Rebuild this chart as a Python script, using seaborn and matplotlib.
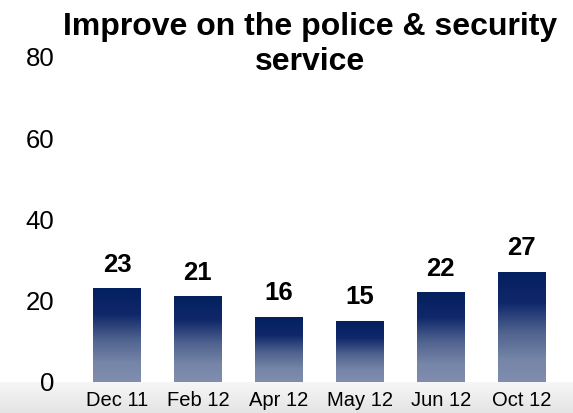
import numpy as np
import pandas as pd
import matplotlib.pyplot as plt
import seaborn as sns
from matplotlib.colors import LinearSegmentedColormap

# Survey share per wave
periods = ["Dec 11", "Feb 12", "Apr 12", "May 12", "Jun 12", "Oct 12"]
values = [23, 21, 16, 15, 22, 27]
y_ticks = [0, 20, 40, 60, 80]
title = "Improve on the police & security\nservice"

df = pd.DataFrame({"period": periods, "value": values})

sns.set_style("white")
plt.rcParams["font.family"] = ["Liberation Sans", "DejaVu Sans"]
plt.rcParams["text.color"] = "black"
plt.rcParams["xtick.color"] = "black"
plt.rcParams["ytick.color"] = "black"

fig = plt.figure(figsize=(5.73, 4.13), dpi=100)

# light grey shading strip along the bottom edge
band = fig.add_axes([0, 0, 1, 0.076], zorder=-1)
band_cmap = LinearSegmentedColormap.from_list("band", ["#e4e4e4", "#f7f7f7"])
band.imshow(np.linspace(0, 1, 50).reshape(-1, 1), cmap=band_cmap,
            aspect="auto", extent=(0, 1, 0, 1), origin="lower")
band.axis("off")

ax = fig.add_axes([0.1335, 0.0758, 0.8475, 0.7862])
ax.patch.set_alpha(0)
sns.barplot(data=df, x="period", y="value", color="#0a2260", width=0.59, ax=ax)

# vertical gradient fill for each bar (light at bottom, navy at top)
bar_cmap = LinearSegmentedColormap.from_list(
    "bar", [(0, "#808dae"), (0.2, "#7686a8"), (0.45, "#50638f"),
            (0.72, "#10286a"), (1, "#03205f")])
grad = np.linspace(0, 1, 256).reshape(-1, 1)
for patch in list(ax.patches):
    x0, y0 = patch.get_x(), patch.get_y()
    w, h = patch.get_width(), patch.get_height()
    ax.imshow(grad, cmap=bar_cmap, aspect="auto", origin="lower",
              extent=(x0, x0 + w, y0, y0 + h), zorder=patch.get_zorder())
    patch.set_visible(False)

ax.set_xlim(-0.5, len(periods) - 0.5)
ax.set_ylim(0, 80)
ax.set_yticks(y_ticks)
ax.set_xlabel("")
ax.set_ylabel("")
sns.despine(ax=ax, left=True, bottom=True)
ax.tick_params(axis="y", labelsize=18.5, pad=16, length=0, labelcolor="black")
ax.tick_params(axis="x", labelsize=14.5, pad=7, length=0, labelcolor="black")

for i, v in enumerate(values):
    ax.annotate(str(v), (i, v), xytext=(0, 12), textcoords="offset points",
                ha="center", va="baseline", fontsize=18.5, fontweight="bold",
                color="black")

fig.text(0.541, 0.972, title, ha="center", va="top", fontsize=23,
         fontweight="bold", linespacing=1.22, color="black")

fig.savefig("out.png", dpi=100)
